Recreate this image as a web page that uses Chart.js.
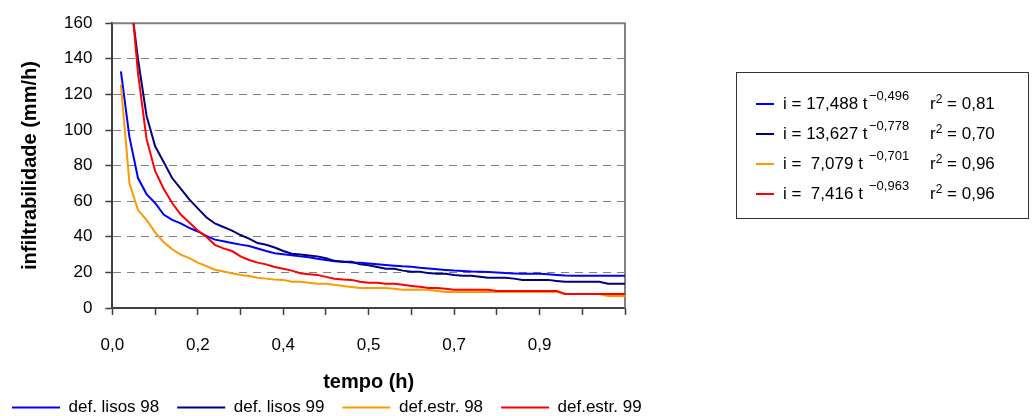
<!DOCTYPE html>
<html>
<head>
<meta charset="utf-8">
<script src="https://cdn.jsdelivr.net/npm/chart.js@4.4.1/dist/chart.umd.min.js"></script>
<style>
  body { margin: 0; background: #fff; }
  #wrap { position: relative; width: 1034px; height: 416px; }
  #eq {
    position: absolute; left: 736px; top: 72px; width: 293px; height: 147px;
    border: 1px solid #333; box-sizing: border-box;
    font-family: "Liberation Sans", Arial, sans-serif; font-size: 17px; color: #000;
  }
  #eq .ln { position: absolute; left: 19px; width: 18px; height: 2px; }
  #eq .t { position: absolute; left: 46px; white-space: pre; line-height: 20px; }
  #eq .s { position: absolute; left: 132px; font-size: 13px; white-space: pre; line-height: 14px; }
  #eq .r { position: absolute; left: 193px; white-space: pre; line-height: 20px; }
  #eq .r sup { font-size: 12px; vertical-align: 6px; line-height: 0; }
</style>
</head>
<body>
<div id="wrap">
  <canvas id="chart" width="1034" height="416"></canvas>
  <div id="eq"></div>
</div>
<script>
// tempo: 61 categorias (0..60 min), rótulo a cada 10
const categorias = Array.from({ length: 61 }, (_, i) => i);
const tickLabels = ["0,0", "0,2", "0,4", "0,5", "0,7", "0,9"];

const seriesNames = ["def. lisos 98", "def. lisos 99", "def.estr. 98", "def.estr. 99"];
const seriesColors = ["#0000FF", "#000080", "#FF9900", "#FF0000"];

const lisos98 = [null,
  133, 96, 73, 64, 59, 52.5, 49.5, 47.5, 45, 43,
  40.5, 38.4, 37.5, 36.5, 35.6, 34.8, 33.4, 32, 30.8, 30.2,
  29.6, 29, 28.5, 27.7, 27, 26.3, 26, 25.6, 25.4, 25,
  24.6, 24.2, 23.8, 23.4, 23.2, 22.6, 22.2, 21.8, 21.4, 21,
  20.8, 20.5, 20.4, 20.2, 20, 19.6, 19.4, 19.2, 19.2, 19.2,
  19, 18.6, 18.2, 18.1, 18.1, 18.1, 18.1, 18.1, 18.1, 18.1];
const lisos99 = [null,
  230, 178, 140, 108, 91, 82, 73, 67, 61, 56,
  51, 47.5, 45.5, 43.5, 41, 39, 36.5, 35.5, 34, 32,
  30.5, 30, 29.5, 29, 28, 26.5, 26, 26, 24.5, 24,
  23, 22, 22, 21, 20.4, 20.4, 19.6, 19.2, 19.2, 18.5,
  18.1, 18.1, 17.5, 17, 17, 17, 16.5, 15.8, 15.8, 15.8,
  15.8, 15.2, 14.7, 14.7, 14.7, 14.7, 14.7, 13.6, 13.6, 13.6];
const estr98 = [null,
  125.5, 70, 55, 49.5, 42.5, 37, 33, 30, 28, 25.5,
  23.5, 21.5, 20.5, 19.5, 18.6, 18, 17, 16.5, 16, 15.8,
  14.7, 14.7, 14.2, 13.6, 13.6, 13, 12.4, 11.8, 11.3, 11.3,
  11.3, 11.3, 10.8, 10.2, 10.2, 10.2, 10.2, 9.6, 9, 9,
  9, 9, 9, 9, 9, 9, 9, 9, 9, 9,
  9, 9, 7.9, 7.9, 7.9, 7.9, 7.9, 6.8, 6.8, 6.8];
const estr99 = [null,
  320, 185, 132, 95, 77, 67, 59, 52.5, 48, 43.5,
  40, 35.5, 33.5, 32, 29, 27, 25.5, 24.5, 23, 22,
  21, 19.5, 19, 18.6, 17.5, 16.4, 16, 15.8, 14.7, 14.2,
  14.2, 13.6, 13.6, 13, 12.4, 11.9, 11.3, 11.3, 10.8, 10.2,
  10.2, 10.2, 10.2, 10.2, 9.6, 9.6, 9.6, 9.6, 9.6, 9.6,
  9.6, 9.6, 7.9, 7.9, 7.9, 7.9, 7.9, 7.9, 7.9, 7.9];

const yTicks = { min: 0, max: 160, step: 20 };

// equações de ajuste (caixa à direita)
const eqCoef = ["17,488", "13,627", " 7,079", " 7,416"];
const eqExp = ["\u22120,496", "\u22120,778", "\u22120,701", "\u22120,963"];
const eqR2 = ["0,81", "0,70", "0,96", "0,96"];

Chart.defaults.font.family = '"Liberation Sans", Arial, sans-serif';
Chart.defaults.font.size = 17;
Chart.defaults.color = "#000";

const plotBorder = {
  id: "plotBorder",
  beforeDatasetsDraw(chart) {
    const { ctx, chartArea: a } = chart;
    ctx.save();
    ctx.strokeStyle = "#808080";
    ctx.lineWidth = 2;
    ctx.beginPath();
    ctx.moveTo(a.left, a.top);
    ctx.lineTo(a.right, a.top);
    ctx.lineTo(a.right, a.bottom);
    ctx.stroke();
    ctx.restore();
  }
};

const allData = [lisos98, lisos99, estr98, estr99];

new Chart(document.getElementById("chart"), {
  type: "line",
  data: {
    labels: categorias,
    datasets: allData.map((d, i) => ({
      label: seriesNames[i],
      data: d,
      borderColor: seriesColors[i],
      backgroundColor: seriesColors[i],
      borderWidth: 2,
      pointRadius: 0,
      tension: 0,
      order: 3 - i
    }))
  },
  options: {
    responsive: false,
    animation: false,
    layout: { padding: { left: -6, top: 15, bottom: -10, right: 0 } },
    plugins: {
      tooltip: { enabled: false },
      legend: {
        position: "bottom",
        align: "start",
        labels: {
          usePointStyle: true,
          pointStyle: "line",
          pointStyleWidth: 48,
          boxWidth: 48,
          padding: 18,
          font: { size: 17 },
          sort: (a, b) => a.datasetIndex - b.datasetIndex
        }
      }
    },
    scales: {
      x: {
        type: "category",
        offset: false,
        grid: {
          drawOnChartArea: false,
          drawTicks: true,
          tickLength: 7,
          tickWidth: 1.5,
          tickColor: ctx => (ctx.index % 5 === 0 ? "#404040" : "rgba(0,0,0,0)")
        },
        border: { display: true, color: "#404040", width: 2 },
        ticks: {
          autoSkip: false,
          maxRotation: 0,
          minRotation: 0,
          padding: 20,
          callback: (v, i) => (i % 10 === 0 && tickLabels[i / 10] ? tickLabels[i / 10] : "")
        },
        title: {
          display: true,
          text: "tempo (h)",
          font: { size: 20, weight: "bold" },
          padding: { top: -5.4, bottom: -13 }
        }
      },
      y: {
        min: yTicks.min,
        max: yTicks.max,
        ticks: { stepSize: yTicks.step, padding: 13 },
        grid: {
          color: "#808080",
          lineWidth: 1,
          tickLength: 7,
          tickColor: "#404040",
          tickWidth: 1.5
        },
        border: { display: true, color: "#404040", width: 2, dash: [8, 6] },
        title: {
          display: true,
          text: "infiltrabilidade (mm/h)",
          font: { size: 20, weight: "bold" },
          padding: { top: 24, bottom: 9 }
        }
      },
      yPad: {
        type: "linear",
        position: "right",
        display: true,
        grid: { display: false },
        border: { display: false },
        ticks: { display: false },
        afterFit(scale) { scale.width = 409; }
      }
    }
  },
  plugins: [plotBorder]
});

// caixa das equações
const eq = document.getElementById("eq");
seriesColors.forEach((c, i) => {
  const cy = 31 + i * 30;
  eq.insertAdjacentHTML("beforeend",
    `<div class="ln" style="top:${cy - 1}px;background:${c}"></div>` +
    `<div class="t" style="top:${cy - 10}px">i = ${eqCoef[i]} t</div>` +
    `<div class="s" style="top:${cy - 15}px">${eqExp[i]}</div>` +
    `<div class="r" style="top:${cy - 10}px">r<sup>2</sup> = ${eqR2[i]}</div>`);
});
</script>
</body>
</html>
